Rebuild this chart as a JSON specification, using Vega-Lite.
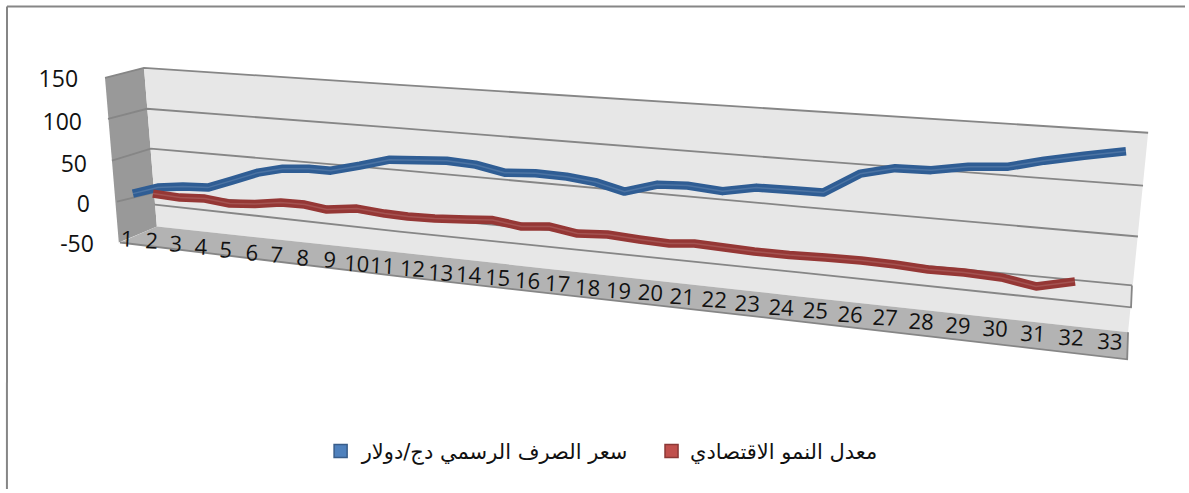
{"$schema":"https://vega.github.io/schema/vega-lite/v6.json","width":1189,"height":493,"padding":0,"autosize":{"type":"fit","contains":"padding"},"background":"white","config":{"view":{"stroke":null}},
"datasets":{
"side":[{"c":0.27,"L":155,"L2":155},{"c":0.73,"L":159.5,"L2":-51.25},{"c":1.57,"L":167.5,"L2":-38.1},{"c":2.0,"L":-31.25,"L2":-31.25}],
"wall":[{"c":1.57,"L":167.5,"L2":167.5},{"c":2.0,"L":166.25,"L2":-31.25},{"c":10.1,"L":146.25,"L2":-63.75},{"c":23.43,"L":113.75,"L2":-118.75},{"c":34.4,"L":88.1,"L2":-163.75},{"c":35.07,"L":86.25,"L2":86.25}],
"floor":[{"c":0.77,"L":-51.25,"L2":-51.25},{"c":2.0,"L":-31.25,"L2":-56.9},{"c":10.1,"L":-63.75,"L2":-93.75},{"c":23.43,"L":-118.75,"L2":-150},{"c":34.4,"L":-163.75,"L2":-197.5}],
"grid":[
{"g":"150","c":0.27,"L":155},{"g":"150","c":1.57,"L":167.5},{"g":"150","c":10.1,"L":146.25},{"g":"150","c":35.07,"L":86.25},
{"g":"100","c":0.37,"L":103.75},{"g":"100","c":1.67,"L":116.25},{"g":"100","c":10.1,"L":91.9},{"g":"100","c":23.43,"L":52.5},{"g":"100","c":34.9,"L":20},
{"g":"50","c":0.5,"L":51.25},{"g":"50","c":1.8,"L":66.25},{"g":"50","c":10.1,"L":39.4},{"g":"50","c":23.43,"L":-6.25},{"g":"50","c":34.73,"L":-43.75},
{"g":"0","c":0.67,"L":0},{"g":"0","c":1.9,"L":11.25},{"g":"0","c":34.53,"L":-105},
{"g":"low","c":1.93,"L":-3.75},{"g":"low","c":10.1,"L":-37.5},{"g":"low","c":23.43,"L":-88.75},{"g":"low","c":34.5,"L":-132.5},{"g":"low","c":34.53,"L":-105},
{"g":"front","c":0.77,"L":-51.25},{"g":"front","c":10.1,"L":-93.75},{"g":"front","c":23.43,"L":-150},{"g":"front","c":34.37,"L":-197.5},{"g":"front","c":34.4,"L":-163.75}],
"frame":[{"g":"top","c":-3,"L":244.4},{"g":"top","c":36.3,"L":244.4},{"g":"left","c":-3,"L":244.4},{"g":"left","c":-3.001,"L":-360}],
"series":[
{"s":"blue","i":1,"c":1.2,"L":10},{"s":"blue","i":2,"c":2.03,"L":17.5},{"s":"blue","i":3,"c":2.87,"L":18.75},{"s":"blue","i":4,"c":3.7,"L":17.5},{"s":"blue","i":5,"c":4.5,"L":26.25},{"s":"blue","i":6,"c":5.37,"L":36.25},{"s":"blue","i":7,"c":6.2,"L":41.25},{"s":"blue","i":8,"c":7.07,"L":41.25},{"s":"blue","i":9,"c":7.8,"L":38.75},{"s":"blue","i":10,"c":8.77,"L":45},{"s":"blue","i":11,"c":9.77,"L":52.5},{"s":"blue","i":12,"c":10.7,"L":51.9},{"s":"blue","i":13,"c":11.67,"L":51.25},{"s":"blue","i":14,"c":12.63,"L":46.25},{"s":"blue","i":15,"c":13.6,"L":36.25},{"s":"blue","i":16,"c":14.63,"L":35.6},{"s":"blue","i":17,"c":15.67,"L":31.25},{"s":"blue","i":18,"c":16.63,"L":24.4},{"s":"blue","i":19,"c":17.6,"L":12.5},{"s":"blue","i":20,"c":18.7,"L":21.25},{"s":"blue","i":21,"c":19.7,"L":20},{"s":"blue","i":22,"c":20.87,"L":13.1},{"s":"blue","i":23,"c":22,"L":17.5},{"s":"blue","i":24,"c":23.13,"L":14.4},{"s":"blue","i":25,"c":24.23,"L":11.25},{"s":"blue","i":26,"c":25.47,"L":35},{"s":"blue","i":27,"c":26.63,"L":41.9},{"s":"blue","i":28,"c":27.83,"L":39.4},{"s":"blue","i":29,"c":29.07,"L":43.75},{"s":"blue","i":30,"c":30.4,"L":43.75},{"s":"blue","i":31,"c":31.6,"L":51.25},{"s":"blue","i":32,"c":32.93,"L":57.5},{"s":"blue","i":33,"c":34.33,"L":63.1},
{"s":"red","i":1,"c":1.87,"L":10},{"s":"red","i":2,"c":2.77,"L":5},{"s":"red","i":3,"c":3.6,"L":3.75},{"s":"red","i":4,"c":4.43,"L":-2.5},{"s":"red","i":5,"c":5.27,"L":-3.1},{"s":"red","i":6,"c":6.13,"L":-1.25},{"s":"red","i":7,"c":6.93,"L":-3.75},{"s":"red","i":8,"c":7.67,"L":-10},{"s":"red","i":9,"c":8.67,"L":-8.75},{"s":"red","i":10,"c":9.6,"L":-15},{"s":"red","i":11,"c":10.37,"L":-18.75},{"s":"red","i":12,"c":11.27,"L":-21.25},{"s":"red","i":13,"c":12.33,"L":-22.5},{"s":"red","i":14,"c":13.2,"L":-23.1},{"s":"red","i":15,"c":14.17,"L":-31.25},{"s":"red","i":16,"c":15.1,"L":-31.25},{"s":"red","i":17,"c":16.03,"L":-40},{"s":"red","i":18,"c":17.03,"L":-41.25},{"s":"red","i":19,"c":18.1,"L":-47.5},{"s":"red","i":20,"c":19.1,"L":-52.5},{"s":"red","i":21,"c":19.93,"L":-52.5},{"s":"red","i":22,"c":20.93,"L":-57.5},{"s":"red","i":23,"c":21.93,"L":-62.5},{"s":"red","i":24,"c":23.1,"L":-66.9},{"s":"red","i":25,"c":24.3,"L":-70},{"s":"red","i":26,"c":25.5,"L":-73.75},{"s":"red","i":27,"c":26.63,"L":-78.75},{"s":"red","i":28,"c":27.73,"L":-85},{"s":"red","i":29,"c":28.93,"L":-88.75},{"s":"red","i":30,"c":30.17,"L":-95},{"s":"red","i":31,"c":31.33,"L":-106.25},{"s":"red","i":32,"c":32.63,"L":-100}],
"ylabels":[{"t":"150","c":-0.63,"L":155},{"t":"100","c":-0.5,"L":101.25},{"t":"50","c":-0.33,"L":48.75},{"t":"0","c":-0.23,"L":-1.25},{"t":"-50","c":-0.1,"L":-51.25}],
"xlabels":[{"t":"1","c":1.0,"L":-45},{"t":"2","c":1.83,"L":-47.5},{"t":"3","c":2.63,"L":-51.25},{"t":"4","c":3.47,"L":-55},{"t":"5","c":4.3,"L":-58.75},{"t":"6","c":5.17,"L":-62.5},{"t":"7","c":6.0,"L":-65},{"t":"8","c":6.87,"L":-68.75},{"t":"9","c":7.77,"L":-71.25},{"t":"10","c":8.67,"L":-76.25},{"t":"11","c":9.53,"L":-78.75},{"t":"12","c":10.53,"L":-82.5},{"t":"13","c":11.47,"L":-87.5},{"t":"14","c":12.4,"L":-90},{"t":"15","c":13.37,"L":-93.75},{"t":"16","c":14.37,"L":-97.5},{"t":"17","c":15.37,"L":-101.25},{"t":"18","c":16.37,"L":-106.25},{"t":"19","c":17.4,"L":-110},{"t":"20","c":18.47,"L":-112.5},{"t":"21","c":19.53,"L":-117.5},{"t":"22","c":20.6,"L":-121.25},{"t":"23","c":21.7,"L":-126.25},{"t":"24","c":22.83,"L":-131.25},{"t":"25","c":23.97,"L":-135},{"t":"26","c":25.13,"L":-140},{"t":"27","c":26.3,"L":-143.75},{"t":"28","c":27.5,"L":-148.75},{"t":"29","c":28.73,"L":-153.75},{"t":"30","c":29.97,"L":-157.5},{"t":"31","c":31.23,"L":-163.75},{"t":"32","c":32.5,"L":-168.75},{"t":"33","c":33.8,"L":-173.75}],
"legendText":[{"t":"سعر الصرف الرسمي دج/دولار","c":17.7,"L":-312.5},{"t":"معدل النمو الاقتصادي","c":26.03,"L":-312.5}],
"legendKey":[{"s":"blue","c":8.13,"L":-312.5},{"s":"red","c":19.17,"L":-312.5}]
},
"encoding":{
"x":{"field":"c","type":"quantitative","scale":{"domain":[-3.2333,36.4],"nice":false,"zero":false},"axis":null},
"y":{"field":"L","type":"quantitative","scale":{"domain":[-363.75,252.5],"nice":false,"zero":false},"axis":null}
},
"layer":[
{"data":{"name":"frame"},"mark":{"type":"line","color":"#868686","strokeWidth":2},"encoding":{"detail":{"field":"g"}}},
{"data":{"name":"side"},"mark":{"type":"area","color":"#999999"},"encoding":{"y2":{"field":"L2"}}},
{"data":{"name":"wall"},"mark":{"type":"area","color":"#e7e7e7"},"encoding":{"y2":{"field":"L2"}}},
{"data":{"name":"floor"},"mark":{"type":"area","color":"#b3b3b3"},"encoding":{"y2":{"field":"L2"}}},
{"data":{"name":"grid"},"mark":{"type":"line","color":"#868686","strokeWidth":1.8},"encoding":{"detail":{"field":"g"}}},
{"data":{"name":"series"},"mark":{"type":"line","strokeWidth":8.5,"strokeJoin":"round","strokeCap":"butt"},"encoding":{"color":{"field":"s","type":"nominal","scale":{"domain":["blue","red"],"range":["#2f5d94","#953735"]},"legend":null}}},
{"data":{"name":"series"},"mark":{"type":"line","color":"white","opacity":0.14,"strokeWidth":1.5},"encoding":{"detail":{"field":"s"}}},
{"data":{"name":"ylabels"},"mark":{"type":"text","align":"right","baseline":"middle","dy":2,"font":"Open Sans","fontSize":23,"color":"#111111"},"encoding":{"text":{"field":"t"}}},
{"data":{"name":"xlabels"},"mark":{"type":"text","align":"center","baseline":"middle","dy":2,"font":"Open Sans","fontSize":22,"angle":3,"color":"#111111"},"encoding":{"text":{"field":"t"}}},
{"data":{"name":"legendKey"},"mark":{"type":"point","shape":"square","filled":true,"size":170,"strokeWidth":1.5,"opacity":1},"encoding":{"fill":{"field":"s","type":"nominal","scale":{"domain":["blue","red"],"range":["#4f81bd","#c0504d"]},"legend":null},"stroke":{"field":"s","type":"nominal","scale":{"domain":["blue","red"],"range":["#385d8a","#8c3836"]},"legend":null}}},
{"data":{"name":"legendText"},"mark":{"type":"text","align":"right","baseline":"middle","dy":2,"font":"DejaVu Sans","fontSize":21,"color":"#111111"},"encoding":{"text":{"field":"t"}}}
]}
